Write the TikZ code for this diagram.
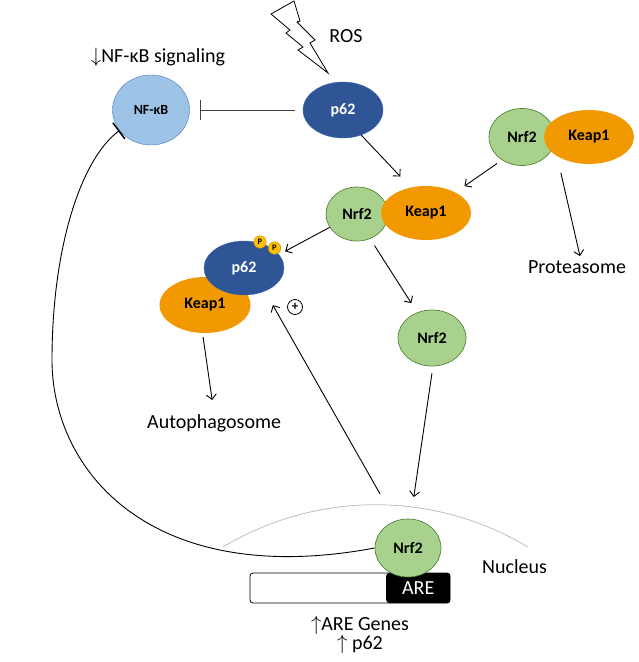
\documentclass[tikz,border=0pt]{standalone}
\usepackage{fontspec}
\setmainfont{Carlito}
\usetikzlibrary{shapes.geometric,arrows.meta}
\definecolor{pblue}{RGB}{47,85,151}
\definecolor{pblueline}{RGB}{66,106,176}
\definecolor{kblue}{RGB}{157,195,230}
\definecolor{kblueline}{RGB}{70,125,190}
\definecolor{ngreen}{RGB}{169,209,142}
\definecolor{ngreenline}{RGB}{84,130,53}
\definecolor{korange}{RGB}{242,152,0}
\definecolor{pgold}{RGB}{255,192,0}
\definecolor{pgoldline}{RGB}{191,144,0}
\definecolor{membgray}{RGB}{190,190,190}
\tikzset{
  mol/.style={ellipse, inner sep=0pt, font=\fontsize{16}{18}\selectfont\bfseries},
  nrf/.style={mol, draw=ngreenline, line width=0.7pt, fill=ngreen, minimum width=64pt, minimum height=56pt},
  keap/.style={mol, fill=korange, minimum width=90pt, minimum height=54pt},
  sqs/.style={mol, fill=pblue, draw=pblueline, text=white, minimum width=80pt, minimum height=56pt},
  phos/.style={circle, draw=pgoldline, fill=pgold, inner sep=0pt, minimum size=12.5pt, font=\fontsize{8.5}{9}\selectfont\bfseries},
  lbl/.style={inner sep=0pt, font=\fontsize{20}{22}\selectfont},
  act/.style={line width=0.9pt, -{Straight Barb[length=5pt,width=10pt]}},
  inhib/.style={line width=0.9pt, -{Bar[width=20pt,line width=1.5pt]}},
}
\begin{document}
\begin{tikzpicture}[x=1pt, y=-1pt]
\useasboundingbox (0,0) rectangle (639,662);
% ROS
\draw[line width=0.8pt, fill=white] (271,14) -- (294,1) -- (300,21) -- (297,22) -- (315,40) -- (310,43) -- (328,73) -- (298,50) -- (303,47) -- (286,33) -- (290,30) -- cycle;
\node[lbl, anchor=base] (ros) at (346,42) {ROS};
\node[lbl, anchor=base] (sig) at (158,62) {$\downarrow$NF-κB signaling};
\node[mol, draw=kblueline, fill=kblue, minimum width=77pt, minimum height=70pt, font=\fontsize{14}{16}\selectfont\bfseries] (nfkb) at (151,110) {NF-κB};
\node[sqs] (p62) at (343,110) {p62};
% Nrf2-Keap1
\node[nrf, minimum width=66pt, minimum height=57pt] (tn) at (522,137) {Nrf2};
\node[keap] (tk) at (589,137) {Keap1};
\node[lbl, anchor=base] (prot) at (577,273) {Proteasome};
\node[nrf, minimum width=62pt, minimum height=54pt] (mn) at (357,214) {Nrf2};
\node[keap] (mk) at (426,213) {Keap1};
% p62-Keap1
\node[keap, minimum width=91pt, minimum height=56pt] (kk) at (205,305) {Keap1};
\node[sqs, minimum height=54pt] (pp) at (244,268) {p62};
\node[phos] (pa) at (260,242) {P};
\node[phos] (pb) at (274.5,248) {P};
\node[lbl, anchor=base west] (auto) at (147,428) {Autophagosome};
\node[nrf, minimum width=68pt, minimum height=56pt] (fn) at (432,338) {Nrf2};
\node[circle, draw, line width=0.8pt, inner sep=0pt, minimum size=15pt, font=\fontsize{13}{13}\selectfont\bfseries] (plus) at (295,307) {+};
% nucleus
\draw[membgray, line width=0.8pt] (223,547) arc[start angle=121, end angle=59, radius=296pt];
\node[draw, line width=0.8pt, rounded corners=3pt, minimum width=200pt, minimum height=30pt] (gene) at (350,588) {};
\node[lbl, fill=black, text=white, rounded corners=3pt, minimum width=64pt, minimum height=30pt, anchor=east] (are) at (gene.east) {ARE};
\node[nrf, minimum width=66pt, minimum height=58pt] (nn) at (408,548) {Nrf2};
\node[lbl, anchor=base west] (nuc) at (482,573) {Nucleus};
\node[lbl, align=center, anchor=north, font=\fontsize{20}{19}\selectfont] (genes) at (360,616) {$\uparrow$ARE Genes\\$\uparrow$ p62};
% connectors
\draw[inhib, draw=black!75, shorten <=8pt, shorten >=10pt] (p62.west) -- (nfkb.east);
\draw[act, shorten >=15pt] (p62.-54) -- (mk.121);
\draw[act, shorten <=6pt, shorten >=11pt] (tn.229) -- (mk.35);
\draw[act, shorten <=17pt, shorten >=4pt] (tk.south west) -- (prot.60);
\draw[act, shorten >=7pt] (mn.206) -- (pp.21);
\draw[act, shorten <=8pt, shorten >=11pt] (mn.-62) -- (fn.120);
\draw[act, shorten <=7pt, shorten >=22pt] (fn.-88) -- (nn.85);
\draw[act, shorten <=31pt, shorten >=16pt] (nn.115) -- (pp.-48);
\draw[act, shorten <=4pt, shorten >=14pt] (kk.265) -- (auto.north);
\draw[inhib] (nn.west) .. controls (150,590) and (52,470) .. (52,360) .. controls (52,250) and (80,160) .. (nfkb.213);
\end{tikzpicture}
\end{document}
